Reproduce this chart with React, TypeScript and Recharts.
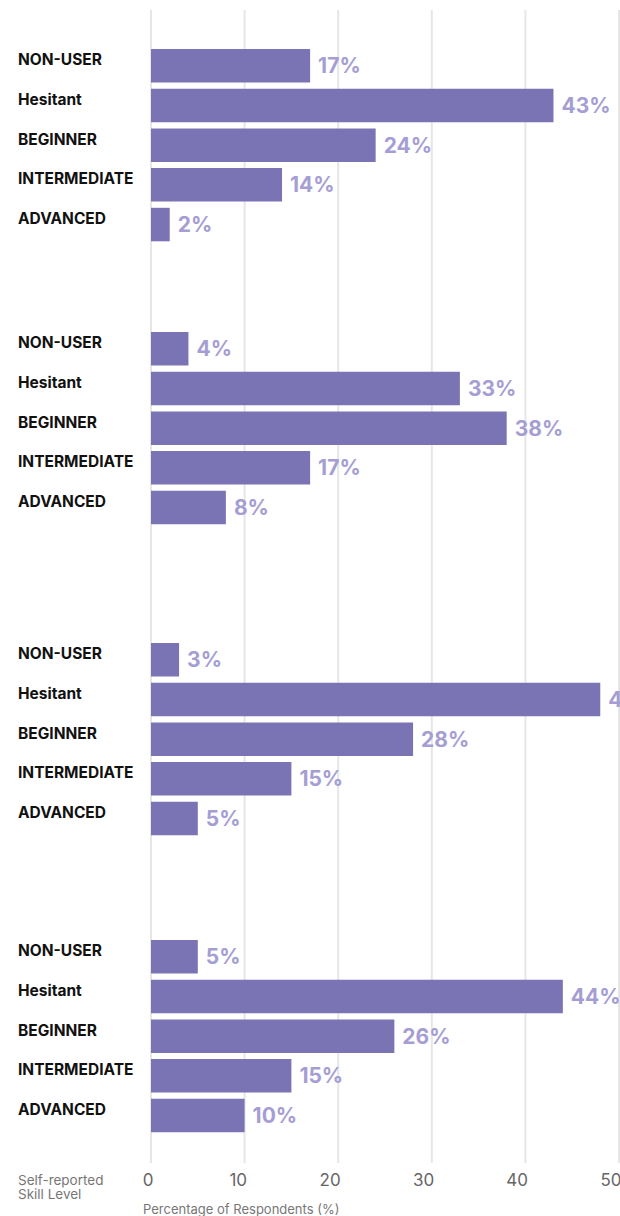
import React from 'react';
import { BarChart, Bar, XAxis, YAxis, CartesianGrid, LabelList } from 'recharts';

// Skill levels shown in every panel, top to bottom
const skillLevels = ['NON-USER', 'Hesitant', 'BEGINNER', 'INTERMEDIATE', 'ADVANCED'];

// Share of respondents (%) per skill level, one array per panel
const panelOne = [17, 43, 24, 14, 2];
const panelTwo = [4, 33, 38, 17, 8];
const panelThree = [3, 48, 28, 15, 5];
const panelFour = [5, 44, 26, 15, 10];

const xTicks = [0, 10, 20, 30, 40, 50];
const xDomain: [number, number] = [0, 50];

const axisTitle = 'Percentage of Respondents (%)';
const levelTitle = ['Self-reported', 'Skill Level'];

// Layout
const WIDTH = 620;
const HEIGHT = 1216;
const LABEL_COL = 151;
const ROW = 39.7;
const BAR = 33.5;
const PANEL_TOPS = [45.9, 328.9, 640.2, 936.9];

const FONT = 'Inter, "Noto Sans", "DejaVu Sans", sans-serif';
const BAR_COLOR = '#7a74b4';
const VALUE_COLOR = '#a59ed4';
const GRID_COLOR = '#e6e6e6';

const panels = [panelOne, panelTwo, panelThree, panelFour].map((values) =>
  skillLevels.map((level, i) => ({ level, pct: values[i] }))
);

const frameRows = skillLevels.map((level) => ({ level }));

const LevelTick = (props: any) => {
  const { y, payload } = props;
  return (
    <text
      x={18}
      y={y - 0.5}
      fontFamily={FONT}
      fontSize={15.5}
      fontWeight={700}
      fill="#111111"
    >
      {payload.value}
    </text>
  );
};

const PercentTick = (props: any) => {
  const { x, y, payload } = props;
  return (
    <text
      x={x + 2.5}
      y={y + 15}
      textAnchor="end"
      fontFamily={FONT}
      fontSize={17}
      fill="#666666"
    >
      {payload.value}
    </text>
  );
};

const AxisNotes = () => (
  <g fontFamily={FONT} fontSize={13.5} fill="#777777">
    <text x={18} y={1185}>{levelTitle[0]}</text>
    <text x={18} y={1199}>{levelTitle[1]}</text>
    <text x={143} y={1214} fontSize={13}>{axisTitle}</text>
  </g>
);

const Panel = ({ rows, top }: { rows: { level: string; pct: number }[]; top: number }) => (
  <div style={{ position: 'absolute', left: 0, top }}>
    <BarChart
      width={WIDTH}
      height={ROW * rows.length}
      layout="vertical"
      data={rows}
      margin={{ top: 0, right: 1, bottom: 0, left: 0 }}
    >
      <XAxis type="number" domain={xDomain} hide allowDataOverflow />
      <YAxis
        type="category"
        dataKey="level"
        width={LABEL_COL}
        axisLine={false}
        tickLine={false}
        interval={0}
        tick={<LevelTick />}
      />
      <Bar dataKey="pct" fill={BAR_COLOR} barSize={BAR} isAnimationActive={false}>
        <LabelList
          dataKey="pct"
          position="right"
          offset={8}
          formatter={(v: any) => `${v}%`}
          style={{ fontFamily: FONT, fontSize: 21, fontWeight: 700, fill: VALUE_COLOR }}
        />
      </Bar>
    </BarChart>
  </div>
);

export default function App() {
  return (
    <div
      style={{
        position: 'absolute',
        left: 0,
        top: 0,
        width: WIDTH,
        height: HEIGHT,
        background: '#ffffff',
        overflow: 'hidden',
      }}
    >
      <div style={{ position: 'absolute', left: 0, top: 0 }}>
        <BarChart
          width={WIDTH}
          height={HEIGHT}
          layout="vertical"
          data={frameRows}
          margin={{ top: 10, right: 1, bottom: 23, left: LABEL_COL }}
        >
          <CartesianGrid horizontal={false} stroke={GRID_COLOR} strokeWidth={2} />
          <XAxis
            type="number"
            domain={xDomain}
            ticks={xTicks}
            allowDataOverflow
            interval={0}
            axisLine={false}
            tickLine={false}
            height={30}
            tick={<PercentTick />}
            label={<AxisNotes />}
          />
          <YAxis type="category" dataKey="level" hide />
        </BarChart>
      </div>
      {panels.map((rows, i) => (
        <Panel key={i} rows={rows} top={PANEL_TOPS[i]} />
      ))}
    </div>
  );
}
